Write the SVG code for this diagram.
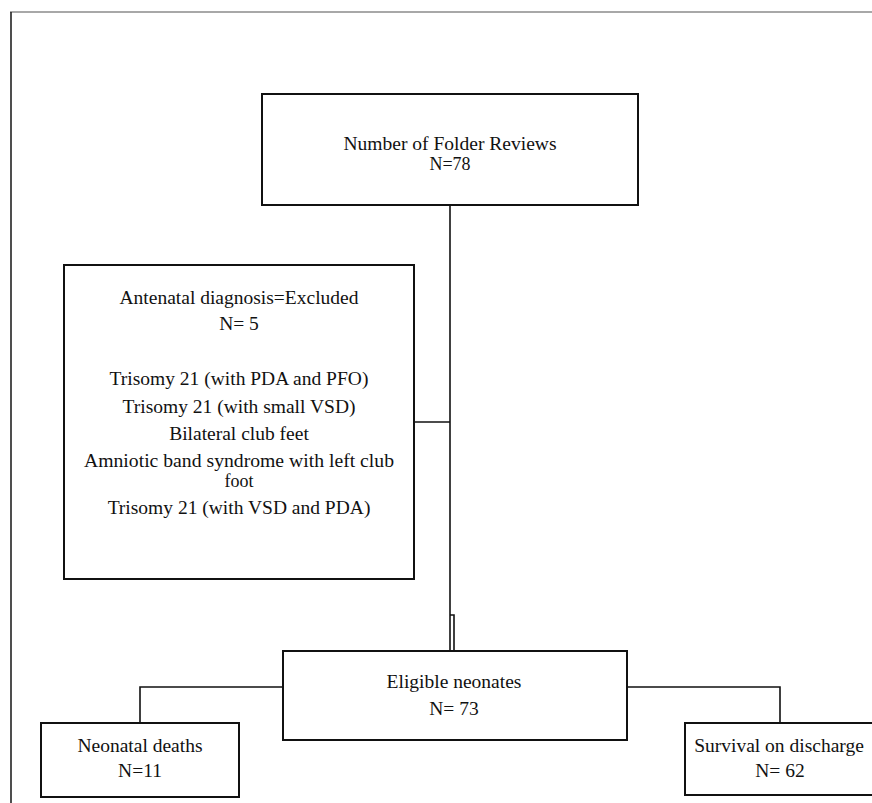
<svg xmlns="http://www.w3.org/2000/svg" width="872" height="803" viewBox="0 0 872 803">
<style>
  .box { fill: #ffffff; stroke: #111111; stroke-width: 2; }
  .conn { fill: none; stroke: #111111; stroke-width: 1.6; }
  text { font-family: "Liberation Serif", "Times New Roman", serif; font-size: 19.5px; fill: #111111; text-anchor: middle; }
  .tight { font-size: 18px; }
</style>
<rect width="872" height="803" fill="#ffffff"/>
<g id="frame">
  <line x1="10" y1="12" x2="872" y2="12" stroke="#a8a8a8" stroke-width="2"/>
  <line x1="11" y1="12" x2="11" y2="803" stroke="#222222" stroke-width="1.6"/>
</g>
<g id="connectors">
  <line class="conn" x1="450" y1="205" x2="450" y2="651"/>
  <line class="conn" x1="414" y1="422" x2="450" y2="422"/>
  <polyline class="conn" points="450,615 454,615 454,651"/>
  <polyline class="conn" points="283,687 140,687 140,723"/>
  <polyline class="conn" points="627,687 780,687 780,723"/>
</g>
<g id="node-folder-reviews">
  <rect class="box" x="262" y="94" width="376" height="111"/>
  <text class="tight" x="450" y="150" textLength="213" lengthAdjust="spacingAndGlyphs">Number of Folder Reviews</text>
  <text class="tight" x="450" y="170" textLength="41" lengthAdjust="spacingAndGlyphs">N=78</text>
</g>
<g id="node-antenatal">
  <rect class="box" x="64" y="265" width="350" height="314"/>
  <text x="239" y="304">Antenatal diagnosis=Excluded</text>
  <text x="239" y="330">N= 5</text>
  <text x="239" y="385">Trisomy 21 (with PDA and PFO)</text>
  <text x="239" y="413">Trisomy 21 (with small VSD)</text>
  <text x="239" y="440">Bilateral club feet</text>
  <text class="tight" x="239" y="467" textLength="310" lengthAdjust="spacingAndGlyphs">Amniotic band syndrome with left club</text>
  <text class="tight" x="239" y="487">foot</text>
  <text x="239" y="514">Trisomy 21 (with VSD and PDA)</text>
</g>
<g id="node-eligible">
  <rect class="box" x="283" y="651" width="344" height="89"/>
  <text x="454" y="688">Eligible neonates</text>
  <text x="454" y="715">N= 73</text>
</g>
<g id="node-deaths">
  <rect class="box" x="41" y="723" width="198" height="74"/>
  <text x="140" y="752">Neonatal deaths</text>
  <text x="140" y="777">N=11</text>
</g>
<g id="node-survival">
  <rect class="box" x="685" y="723" width="189" height="72"/>
  <text x="779" y="752">Survival on discharge</text>
  <text x="780" y="777">N= 62</text>
</g>
</svg>
